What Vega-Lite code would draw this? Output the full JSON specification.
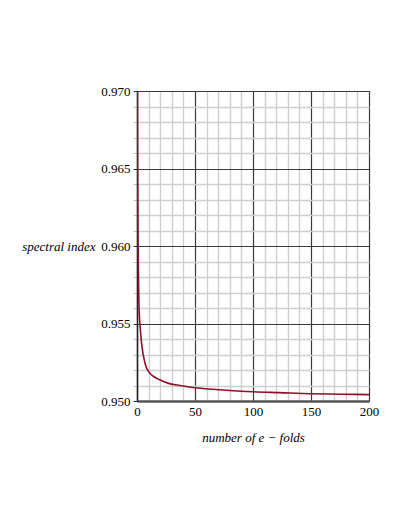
{
  "$schema": "https://vega.github.io/schema/vega-lite/v6.json",
  "width": 232,
  "height": 310,
  "autosize": {"type": "none"},
  "padding": {"left": 137, "top": 91, "right": 40, "bottom": 128},
  "background": "white",
  "config": {
    "view": {"stroke": "#444", "strokeWidth": 1},
    "font": "'Liberation Serif', 'Times New Roman', serif"
  },
  "data": {
    "values": [
      {"N": 0.15, "ns": 0.9725},
      {"N": 0.3, "ns": 0.9700},
      {"N": 0.5, "ns": 0.9655},
      {"N": 0.8, "ns": 0.9612},
      {"N": 1.2, "ns": 0.9584},
      {"N": 1.7, "ns": 0.9561},
      {"N": 2.6, "ns": 0.9549},
      {"N": 4, "ns": 0.9537},
      {"N": 7, "ns": 0.9524},
      {"N": 11, "ns": 0.9518},
      {"N": 15, "ns": 0.95155},
      {"N": 20, "ns": 0.95135},
      {"N": 28, "ns": 0.95112},
      {"N": 37, "ns": 0.95100},
      {"N": 50, "ns": 0.95086},
      {"N": 65, "ns": 0.95076},
      {"N": 80, "ns": 0.95068},
      {"N": 100, "ns": 0.95060},
      {"N": 123, "ns": 0.95054},
      {"N": 150, "ns": 0.95047},
      {"N": 175, "ns": 0.95044},
      {"N": 200, "ns": 0.95041}
    ]
  },
  "mark": {"type": "line", "color": "#8e1029", "strokeWidth": 1.6, "clip": true, "interpolate": "monotone"},
  "encoding": {
    "x": {
      "field": "N",
      "type": "quantitative",
      "scale": {"domain": [0, 200], "nice": false, "zero": false},
      "axis": {
        "values": [0,10,20,30,40,50,60,70,80,90,100,110,120,130,140,150,160,170,180,190,200],
        "labelExpr": "datum.value % 50 === 0 ? datum.label : ''",
        "labelFont": "'Liberation Serif', 'Times New Roman', serif",
        "labelFontSize": 13,
        "labelColor": "#000",
        "labelPadding": 4,
        "labelFlush": false,
        "labelOverlap": false,
        "tickSize": 0,
        "domainColor": "#555",
        "domainWidth": 2.5,
        "grid": true,
        "gridColor": {"condition": {"test": "datum.value % 50 === 0", "value": "#3a3a3a"}, "value": "#cfcfcf"},
        "gridWidth": {"condition": {"test": "datum.value % 50 === 0", "value": 1.2}, "value": 1.4},
        "gridOpacity": 1,
        "title": "number of e − folds",
        "titleFont": "'Liberation Serif', 'Times New Roman', serif",
        "titleFontStyle": "italic",
        "titleFontWeight": "normal",
        "titleFontSize": 13,
        "titleColor": "#000",
        "titleY": 36,
        "titleBaseline": "middle"
      }
    },
    "y": {
      "field": "ns",
      "type": "quantitative",
      "scale": {"domain": [0.95, 0.97], "nice": false, "zero": false},
      "axis": {
        "values": [0.95,0.951,0.952,0.953,0.954,0.955,0.956,0.957,0.958,0.959,0.96,0.961,0.962,0.963,0.964,0.965,0.966,0.967,0.968,0.969,0.97],
        "format": ".3f",
        "labelExpr": "round(datum.value*1000) % 5 === 0 ? datum.label : ''",
        "labelFont": "'Liberation Serif', 'Times New Roman', serif",
        "labelFontSize": 13,
        "labelColor": "#000",
        "labelPadding": 3,
        "labelFlush": false,
        "labelOverlap": false,
        "tickSize": 4,
        "tickColor": {"condition": {"test": "round(datum.value*1000) % 5 === 0", "value": "#333"}, "value": "#bbb"},
        "domainColor": "#222",
        "domainWidth": 1.5,
        "grid": true,
        "gridColor": {"condition": {"test": "round(datum.value*1000) % 5 === 0", "value": "#3a3a3a"}, "value": "#cfcfcf"},
        "gridWidth": {"condition": {"test": "round(datum.value*1000) % 5 === 0", "value": 1.2}, "value": 1.4},
        "gridOpacity": 1,
        "title": "spectral index",
        "titleFont": "'Liberation Serif', 'Times New Roman', serif",
        "titleFontStyle": "italic",
        "titleFontWeight": "normal",
        "titleFontSize": 13,
        "titleColor": "#000",
        "titleAngle": 0,
        "titleAlign": "right",
        "titleBaseline": "middle",
        "titleX": -42,
        "titleY": 155
      }
    }
  }
}
